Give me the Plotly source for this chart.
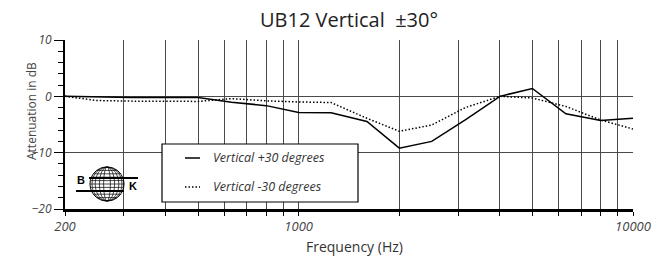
import math
import plotly.graph_objects as go

# ---------------- data ----------------
freqs = [200, 250, 315, 400, 500, 630, 800, 1000, 1250, 1600, 2000, 2500,
         3150, 4000, 5000, 6300, 8000, 10000]
plus30 = [0.0, -0.15, -0.2, -0.2, -0.2, -1.05, -1.65, -2.85, -2.9, -4.45,
          -9.2, -8.0, -4.2, 0.0, 1.4, -3.1, -4.3, -3.9]
minus30 = [0.0, -0.75, -0.85, -0.85, -0.9, -0.4, -0.8, -1.0, -1.1, -3.9,
           -6.2, -5.1, -2.0, 0.0, -0.3, -1.8, -4.2, -5.8]
series_names = ["Vertical +30 degrees", "Vertical -30 degrees"]

x_grid = [200, 300, 400, 500, 600, 700, 800, 900, 1000,
          2000, 3000, 4000, 5000, 6000, 7000, 8000, 9000, 10000]
x_labels = {200: "200", 1000: "1000", 10000: "10000"}
y_ticks = [-20, -10, 0, 10]
y_grid = [-10, 0]
y_minor = [-18, -16, -14, -12, -8, -6, -4, -2, 2, 4, 6, 8]

title_text = "UB12 Vertical\u00a0\u00a0\u00b130\u00b0"
x_title = "Frequency (Hz)"
y_title = "Attenuation in dB"

# ---------------- layout geometry (pixels) ----------------
W, H = 669, 259
ML, MR, MT, MB = 65, 36, 40, 50
PW, PH = W - ML - MR, H - MT - MB

def px(x):
    return (x - ML) / PW

def py(y):
    return (H - MB - y) / PH

FONT = "Open Sans"
GRID = "#4a4a4a"

fig = go.Figure()
fig.add_trace(go.Scatter(x=freqs, y=plus30, name=series_names[0], mode="lines",
                         line=dict(color="black", width=1.5), showlegend=False))
fig.add_trace(go.Scatter(x=freqs, y=minus30, name=series_names[1], mode="lines",
                         line=dict(color="black", width=1.5, dash="1.5px,2px"),
                         showlegend=False))
# invisible trace carrying the y-gridlines (only at -10 and 0, no top line)
fig.add_trace(go.Scatter(x=[freqs[0]], y=[0], yaxis="y2", mode="markers",
                         marker=dict(opacity=0), showlegend=False, hoverinfo="skip"))

shapes = []
annotations = []

# manual legend box
lx0, ly0, lx1, ly1 = 162, 144, 358, 202
shapes.append(dict(type="rect", xref="paper", yref="paper",
                   x0=px(lx0), x1=px(lx1), y0=py(ly1), y1=py(ly0),
                   line=dict(color="black", width=1.2), fillcolor="white", layer="above"))
for i, (yy, dash) in enumerate([(158, "solid"), (187, "1.5px,2px")]):
    shapes.append(dict(type="line", xref="paper", yref="paper",
                       x0=px(185), x1=px(200), y0=py(yy), y1=py(yy),
                       line=dict(color="black", width=1.5, dash=dash), layer="above"))
    annotations.append(dict(xref="paper", yref="paper", x=px(211), y=py(yy - 0.5),
                            text=series_names[i], showarrow=False, xanchor="left",
                            yanchor="middle",
                            font=dict(family=FONT, size=12.5, color="#333", style="italic")))

# B&K logo (decoration)
cx, cy, R = 107, 184, 17
shapes.append(dict(type="circle", xref="paper", yref="paper",
                   x0=px(cx - R), x1=px(cx + R), y0=py(cy + R), y1=py(cy - R),
                   line=dict(color="black", width=1), layer="above"))
for k in [0.2, 0.45, 0.7, 0.88]:
    rx = R * k
    shapes.append(dict(type="circle", xref="paper", yref="paper",
                       x0=px(cx - rx), x1=px(cx + rx), y0=py(cy + R), y1=py(cy - R),
                       line=dict(color="black", width=0.7), layer="above"))
for j in range(-4, 5):
    dy = j * R / 5
    hw = R * math.sqrt(max(0.0, 1 - (dy / R) ** 2))
    shapes.append(dict(type="line", xref="paper", yref="paper",
                       x0=px(cx - hw), x1=px(cx + hw), y0=py(cy + dy), y1=py(cy + dy),
                       line=dict(color="black", width=0.7), layer="above"))
shapes.append(dict(type="line", xref="paper", yref="paper",
                   x0=px(89), x1=px(138), y0=py(178), y1=py(178),
                   line=dict(color="black", width=2.2), layer="above"))
shapes.append(dict(type="line", xref="paper", yref="paper",
                   x0=px(76), x1=px(124), y0=py(191), y1=py(191),
                   line=dict(color="black", width=2.2), layer="above"))
annotations.append(dict(xref="paper", yref="paper", x=px(81), y=py(180), text="<b>B</b>",
                        showarrow=False, xanchor="center", yanchor="middle",
                        font=dict(family="Liberation Sans", size=11, color="black")))
annotations.append(dict(xref="paper", yref="paper", x=px(133), y=py(186), text="<b>K</b>",
                        showarrow=False, xanchor="center", yanchor="middle",
                        font=dict(family="Liberation Sans", size=11, color="black")))

# axis titles
annotations.append(dict(xref="paper", yref="paper", x=px(354), y=py(246), text=x_title,
                        showarrow=False, xanchor="center", yanchor="middle",
                        font=dict(family=FONT, size=14, color="#333")))
annotations.append(dict(xref="paper", yref="paper", x=px(31), y=py(111), text=y_title,
                        showarrow=False, xanchor="center", yanchor="middle", textangle=-90,
                        font=dict(family=FONT, size=12, color="#444")))

fig.update_layout(
    width=W, height=H,
    margin=dict(l=ML, r=MR, t=MT, b=MB, pad=0),
    paper_bgcolor="white", plot_bgcolor="white",
    title=dict(text=title_text, x=(ML + PW / 2) / W,
               xanchor="center", y=1 - 20 / H, yanchor="middle",
               font=dict(family=FONT, size=20, color="#222")),
    shapes=shapes, annotations=annotations,
    showlegend=False,
    yaxis2=dict(overlaying="y", range=[-20, 10], tickmode="array", tickvals=y_grid,
                showticklabels=False, ticks="", showgrid=True, gridcolor=GRID,
                gridwidth=1, zeroline=False, showline=False),
    yaxis=dict(
        range=[-20, 10],
        tickmode="array", tickvals=y_ticks,
        ticks="outside", ticklen=9, tickcolor="black", tickwidth=1,
        minor=dict(tickmode="array", tickvals=y_minor,
                   ticks="outside", ticklen=5, tickcolor="black", showgrid=False),
        showgrid=False,
        showline=True, linecolor="black", linewidth=2,
        zeroline=False,
        tickfont=dict(family=FONT, size=12, color="#444", style="italic"),
    ),
    xaxis=dict(
        type="log", range=[math.log10(200), 4],
        tickmode="array", tickvals=x_grid,
        ticktext=[x_labels.get(v, "") for v in x_grid],
        ticks="outside", ticklen=4, tickcolor="black", tickwidth=1,
        showgrid=True, gridcolor=GRID, gridwidth=1,
        showline=True, linecolor="black", linewidth=2.5,
        zeroline=False,
        tickfont=dict(family=FONT, size=13, color="#444", style="italic"),
    ),
)

fig.write_html("out.html",
               config={"displayModeBar": False},
               post_script="document.body.style.margin='0';document.body.style.overflow='hidden';")
